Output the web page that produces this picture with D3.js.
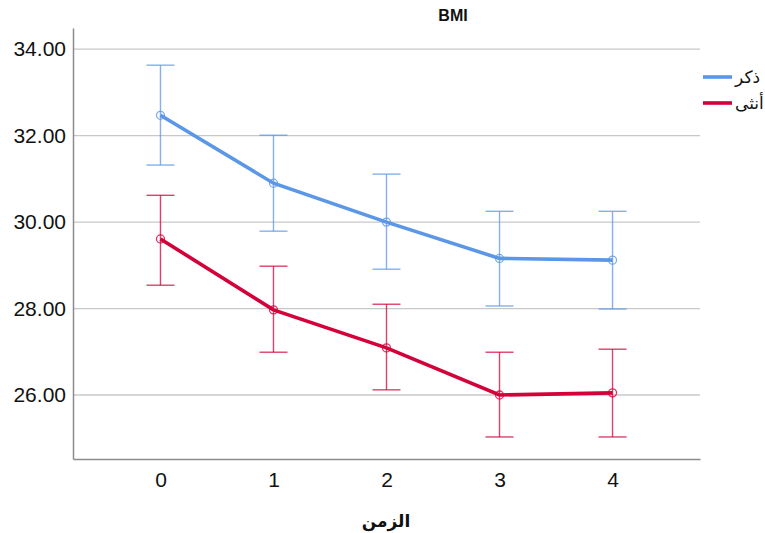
<!DOCTYPE html>
<html>
<head>
<meta charset="utf-8">
<script src="https://cdn.jsdelivr.net/npm/d3@7"></script>
<style>
  body { margin: 0; background: #fff; }
  text { font-family: "Liberation Sans", Arial, sans-serif; }
</style>
</head>
<body>
<script>
const times = ['0', '1', '2', '3', '4'];
const seriesNames = ['ذكر', 'أنثى'];
const seriesColors = ['#5b97e6', '#d3003a'];

// mean, upper and lower limits of the error bars for each group
const maleMean = [32.47, 30.90, 30.00, 29.16, 29.12];
const maleUpper = [33.63, 32.01, 31.11, 30.25, 30.25];
const maleLower = [31.32, 29.79, 28.91, 28.06, 27.99];
const femaleMean = [29.61, 27.97, 27.09, 26.00, 26.05];
const femaleUpper = [30.62, 28.98, 28.10, 26.99, 27.06];
const femaleLower = [28.54, 26.99, 26.12, 25.03, 25.03];
const yTicks = [26, 28, 30, 32, 34];

const margin = { top: 28, right: 65, bottom: 74, left: 73 };
const width = 765 - margin.left - margin.right;
const height = 533 - margin.top - margin.bottom;

const series = [
  { name: seriesNames[0], color: seriesColors[0], mean: maleMean, up: maleUpper, lo: maleLower },
  { name: seriesNames[1], color: seriesColors[1], mean: femaleMean, up: femaleUpper, lo: femaleLower },
];

const x = d3.scalePoint()
  .domain(times)
  .range([0, width])
  .padding(0.774);

const y = d3.scaleLinear()
  .domain([24.52, 34.49])
  .range([height, 0]);

const svg = d3.select('body').append('svg')
  .attr('width', 765)
  .attr('height', 533);

const g = svg.append('g')
  .attr('transform', `translate(${margin.left}, ${margin.top})`);

// gridlines
g.selectAll('.grid')
  .data(yTicks)
  .enter().append('line')
  .attr('x1', 0)
  .attr('x2', width)
  .attr('y1', d => y(d))
  .attr('y2', d => y(d))
  .attr('stroke', '#c8c8c8')
  .attr('stroke-width', 1.3);

// axes
const yAxis = g.append('g')
  .call(d3.axisLeft(y).tickValues(yTicks).tickFormat(d3.format('.2f')).tickSize(0).tickPadding(7));
yAxis.select('.domain').attr('stroke', '#8c8c8c').attr('stroke-width', 1.5);
yAxis.selectAll('text').attr('font-size', 21).attr('fill', '#111').style('font-family', '"Liberation Sans", Arial, sans-serif');

const xAxis = g.append('g')
  .attr('transform', `translate(0, ${height})`)
  .call(d3.axisBottom(x).tickSize(0).tickPadding(13));
xAxis.select('.domain').attr('stroke', '#8c8c8c').attr('stroke-width', 1.5);
xAxis.selectAll('text').attr('font-size', 21).attr('fill', '#111').style('font-family', '"Liberation Sans", Arial, sans-serif');

series.forEach((s) => {
  const eb = g.append('g')
    .attr('stroke', s.color)
    .attr('stroke-opacity', 0.75)
    .attr('stroke-width', 1.4)
    .attr('fill', 'none');

  times.forEach((t, i) => {
    const cx = x(t);
    eb.append('line')
      .attr('x1', cx).attr('x2', cx)
      .attr('y1', y(s.up[i])).attr('y2', y(s.lo[i]));
    [s.up[i], s.lo[i]].forEach((v) => {
      eb.append('line')
        .attr('x1', cx - 14).attr('x2', cx + 14)
        .attr('y1', y(v)).attr('y2', y(v));
    });
  });

  const line = d3.line()
    .x((d, i) => x(times[i]))
    .y(d => y(d));

  g.append('path')
    .datum(s.mean)
    .attr('d', line)
    .attr('fill', 'none')
    .attr('stroke', s.color)
    .attr('stroke-width', 3.6);

  g.selectAll(null)
    .data(s.mean)
    .enter().append('circle')
    .attr('cx', (d, i) => x(times[i]))
    .attr('cy', d => y(d))
    .attr('r', 4)
    .attr('fill', 'none')
    .attr('stroke', s.color)
    .attr('stroke-opacity', 0.8)
    .attr('stroke-width', 1.3);
});

// title
svg.append('text')
  .attr('x', 453)
  .attr('y', 21)
  .attr('text-anchor', 'middle')
  .attr('font-size', 16)
  .attr('font-weight', 'bold')
  .attr('fill', '#111')
  .text('BMI');

// x axis title
svg.append('text')
  .attr('x', 386)
  .attr('y', 527)
  .attr('text-anchor', 'middle')
  .attr('font-size', 17)
  .attr('font-weight', 'bold')
  .attr('fill', '#111')
  .style('font-family', '"DejaVu Sans", sans-serif')
  .text('الزمن');

// legend
const legend = svg.append('g')
  .attr('transform', 'translate(703, 77)');

series.forEach((s, i) => {
  const row = legend.append('g')
    .attr('transform', `translate(0, ${i * 26})`);
  row.append('line')
    .attr('x1', 0).attr('x2', 29)
    .attr('y1', 0).attr('y2', 0)
    .attr('stroke', s.color)
    .attr('stroke-width', 3.6);
  row.append('text')
    .attr('x', 32)
    .attr('y', 6)
    .attr('font-size', 17)
    .attr('fill', '#111')
    .style('font-family', '"DejaVu Sans", sans-serif')
    .text(s.name);
});
</script>
</body>
</html>
